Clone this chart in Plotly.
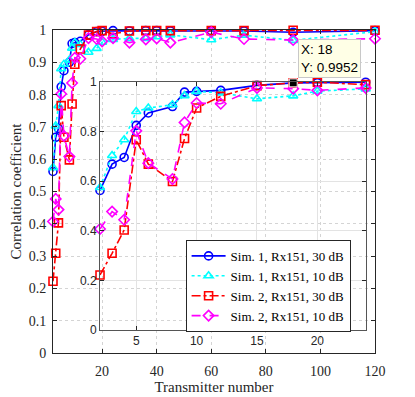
import plotly.graph_objects as go

# transmitter numbers (x) and correlation coefficients per simulation
tx = [2, 3, 4, 5, 6, 8, 9, 10, 12, 15, 18, 20, 24, 30, 36, 40, 45, 60, 72, 90, 120]

sim1_30 = [0.562, 0.668, 0.695, 0.824, 0.874, 0.900, 0.958, 0.961, 0.965, 0.985, 0.995,
           0.996, 0.998, 0.997, 0.998, 0.998, 0.997, 0.998, 0.997, 0.993, 0.998]
sim1_10 = [0.574, 0.703, 0.766, 0.880, 0.894, 0.907, 0.944, 0.961, 0.955, 0.931, 0.943,
           0.962, 0.971, 0.974, 0.974, 0.979, 0.985, 0.970, 0.984, 0.968, 0.995]
sim2_30 = [0.222, 0.309, 0.403, 0.766, 0.668, 0.598, 0.771, 0.894, 0.941, 0.984, 0.9952,
           0.998, 0.988, 0.997, 0.998, 0.998, 0.998, 0.998, 0.998, 0.999, 0.999]
sim2_10 = [0.407, 0.477, 0.444, 0.802, 0.672, 0.608, 0.836, 0.914, 0.911, 0.975, 0.972,
           0.965, 0.975, 0.961, 0.971, 0.974, 0.961, 0.993, 0.972, 0.969, 0.973]

names = ["Sim. 1, Rx151, 30 dB", "Sim. 1, Rx151, 10 dB",
         "Sim. 2, Rx151, 30 dB", "Sim. 2, Rx151, 10 dB"]

main_xticks = [20, 40, 60, 80, 100, 120]
inset_xticks = [5, 10, 15, 20]
inset_max_x = 24

tip_x = 18
tip_y = 0.9952

styles = [
    ("#0000ff", "solid", "circle-open"),
    ("#00ffff", "dot", "triangle-up-open"),
    ("#ff0000", "dashdot", "square-open"),
    ("#ff00ff", "dash", "diamond-open"),
]

serif = "Liberation Serif"
sans = "Liberation Sans"
axcol = "#262626"

fig = go.Figure()

n_in = sum(1 for t in tx if t <= inset_max_x)
all_series = [sim1_30, sim1_10, sim2_30, sim2_10]

for name, ys, (col, dash, sym) in zip(names, all_series, styles):
    fig.add_trace(go.Scatter(
        x=tx, y=ys, name=name, mode="lines+markers",
        line=dict(color=col, width=1.6, dash=dash),
        marker=dict(symbol=sym, size=8, color=col, line=dict(width=1.6, color=col)),
        cliponaxis=False, xaxis="x", yaxis="y"))

for name, ys, (col, dash, sym) in zip(names, all_series, styles):
    fig.add_trace(go.Scatter(
        x=tx[:n_in], y=ys[:n_in], name=name, mode="lines+markers", showlegend=False,
        line=dict(color=col, width=1.6, dash=dash),
        marker=dict(symbol=sym, size=8, color=col, line=dict(width=1.6, color=col)),
        cliponaxis=False, xaxis="x2", yaxis="y2"))

# datatip marker
fig.add_trace(go.Scatter(
    x=[tip_x], y=[tip_y], mode="markers", showlegend=False,
    marker=dict(symbol="square", size=8, color="black", line=dict(width=1, color="white")),
    cliponaxis=False, xaxis="x2", yaxis="y2"))

fig.add_annotation(
    x=tip_x, y=tip_y, xref="x2", yref="y2", xanchor="left", yanchor="bottom",
    xshift=5, yshift=5, showarrow=False, align="left",
    text="X: %d<br>Y: %.4f" % (tip_x, tip_y),
    font=dict(family=sans, size=13.5, color="black"),
    bgcolor="#ffffe6", bordercolor="#c8c8c8", borderwidth=1, borderpad=2)

# the page body has an 8px margin, so the figure is 8px smaller on each side
fig.update_layout(
    template="none",
    width=407, height=389,
    margin=dict(l=45, r=40, t=22, b=44, autoexpand=False),
    paper_bgcolor="white", plot_bgcolor="rgba(0,0,0,0)",
    font=dict(family=serif, size=14, color=axcol),
    xaxis=dict(domain=[0, 1], range=[2, 120], tickvals=main_xticks, automargin=False,
               ticks="inside", ticklen=4, tickcolor=axcol, ticklabelstandoff=5,
               showline=True, linecolor=axcol, linewidth=1, mirror="ticks",
               showgrid=True, gridcolor="#d4d4d4", griddash="dot", zeroline=False,
               tickfont=dict(family=serif, size=14, color=axcol),
               title=dict(text="Transmitter number", font=dict(family=serif, size=15, color=axcol),
                          standoff=2)),
    yaxis=dict(domain=[0, 1], range=[0, 1], dtick=0.1, tick0=0, automargin=False,
               ticks="inside", ticklen=4, tickcolor=axcol, ticklabelstandoff=3,
               showline=True, linecolor=axcol, linewidth=1, mirror="ticks",
               showgrid=True, gridcolor="#d4d4d4", griddash="dot", zeroline=False,
               tickfont=dict(family=serif, size=14, color=axcol),
               title=dict(text="Correlation coefficient", font=dict(family=serif, size=15, color=axcol),
                          standoff=3)),
    xaxis2=dict(domain=[0.146, 0.971], range=[2, inset_max_x], tickvals=inset_xticks,
                anchor="y2", ticks="inside", ticklen=4, tickcolor=axcol, automargin=False,
                showline=True, linecolor="#555555", linewidth=1, mirror="ticks",
                showgrid=True, gridcolor="#e3e3e3", zeroline=False,
                tickfont=dict(family=sans, size=12, color=axcol)),
    yaxis2=dict(domain=[0.071, 0.840], range=[0, 1], dtick=0.2, tick0=0,
                anchor="x2", ticks="inside", ticklen=4, tickcolor=axcol, automargin=False,
                showline=True, linecolor="#555555", linewidth=1, mirror="ticks",
                showgrid=True, gridcolor="#e3e3e3", zeroline=False,
                tickfont=dict(family=sans, size=12, color=axcol)),
    legend=dict(x=0.668, y=0.35, xanchor="center", yanchor="top",
                bgcolor="white", bordercolor=axcol, borderwidth=1,
                font=dict(family=serif, size=13, color="black"),
                itemwidth=34, tracegroupgap=0),
)

fig.write_html("out.html")
